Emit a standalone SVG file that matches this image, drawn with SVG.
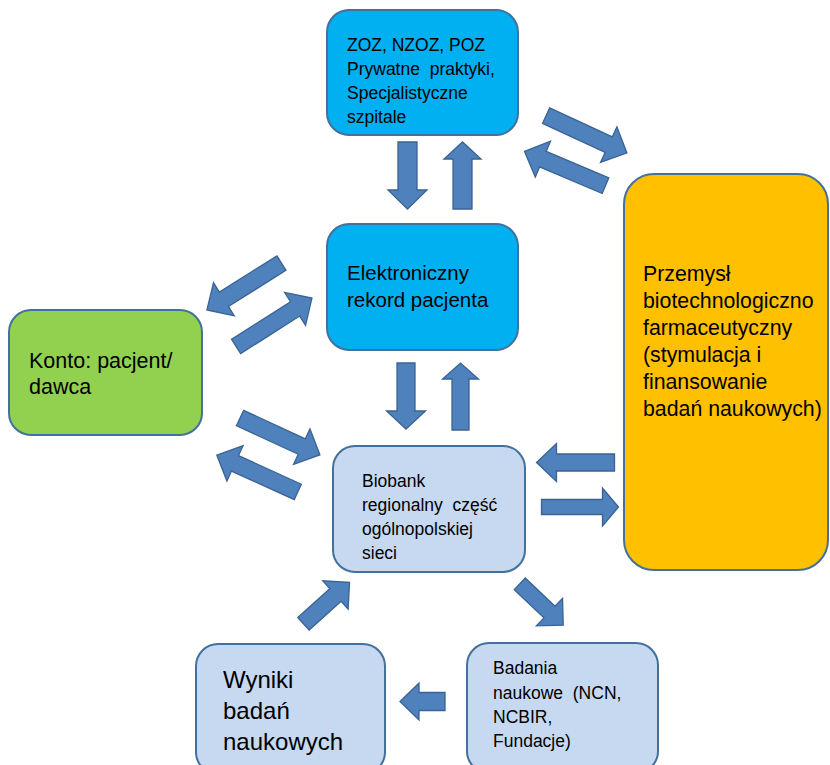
<svg xmlns="http://www.w3.org/2000/svg" width="830" height="765" viewBox="0 0 830 765">
<style>
.box{stroke:#41719C;stroke-width:2}
.cyan{fill:#00B0F0}
.green{fill:#92D050}
.orange{fill:#FFC000}
.light{fill:#C6D9F1}
.arr{fill:#4F81BD;stroke:#3A6394;stroke-width:1.3;stroke-linejoin:miter}
text{font-family:"Liberation Sans",Arial,sans-serif;fill:#000;white-space:pre}
</style>
<rect width="830" height="765" fill="#FFFFFF"/>
<g id="connectors">
<path class="arr" transform="translate(407.5,175.5) rotate(90)" d="M-33.5,-9.5 H14.5 V-19.5 L33.5,0 L14.5,19.5 V9.5 H-33.5 Z"/>
<path class="arr" transform="translate(462.5,175.5) rotate(-90)" d="M-33.5,-9.5 H16.5 V-18.5 L33.5,0 L16.5,18.5 V9.5 H-33.5 Z"/>
<path class="arr" transform="translate(406,396) rotate(90)" d="M-33,-9 H15 V-19.5 L33,0 L15,19.5 V9 H-33 Z"/>
<path class="arr" transform="translate(460.5,396.5) rotate(-90)" d="M-33.5,-8.5 H17.5 V-18 L33.5,0 L17.5,18 V8.5 H-33.5 Z"/>
<path class="arr" transform="translate(586.5,134.3) rotate(24.8)" d="M-44.5,-8.5 H24.5 V-19.5 L44.5,0 L24.5,19.5 V8.5 H-44.5 Z"/>
<path class="arr" transform="translate(565,168.5) rotate(203)" d="M-44,-8.5 H24 V-19.5 L44,0 L24,19.5 V8.5 H-44 Z"/>
<path class="arr" transform="translate(244.2,286.5) rotate(147.9)" d="M-44,-8.5 H24 V-19.5 L44,0 L24,19.5 V8.5 H-44 Z"/>
<path class="arr" transform="translate(274,322.3) rotate(-32.5)" d="M-45,-8.5 H25 V-19.5 L45,0 L25,19.5 V8.5 H-45 Z"/>
<path class="arr" transform="translate(280,436.5) rotate(24.8)" d="M-44,-8.5 H24 V-19.5 L44,0 L24,19.5 V8.5 H-44 Z"/>
<path class="arr" transform="translate(257.3,473.5) rotate(204.5)" d="M-44.5,-8.5 H24.5 V-19.5 L44.5,0 L24.5,19.5 V8.5 H-44.5 Z"/>
<path class="arr" transform="translate(575.5,462.5) rotate(180)" d="M-39,-8.5 H19 V-19 L39,0 L19,19 V8.5 H-39 Z"/>
<path class="arr" transform="translate(580,507)" d="M-38.5,-7.5 H22.5 V-19 L38.5,0 L22.5,19 V7.5 H-38.5 Z"/>
<path class="arr" transform="translate(326.5,603) rotate(-42)" d="M-31,-8.5 H12 V-19 L31,0 L12,19 V8.5 H-31 Z"/>
<path class="arr" transform="translate(541.5,604.5) rotate(43.6)" d="M-30,-8 H11 V-19 L30,0 L11,19 V8 H-30 Z"/>
<path class="arr" transform="translate(422.5,701.5) rotate(180)" d="M-22.5,-9 H3.5 V-18.5 L22.5,0 L3.5,18.5 V9 H-22.5 Z"/>
</g>
<g id="zoz">
<rect class="box cyan" x="327" y="10" width="191" height="125" rx="22"/>
<text font-size="17.5"><tspan x="347" y="50.5">ZOZ, NZOZ, POZ</tspan><tspan x="347" y="74.5">Prywatne  praktyki,</tspan><tspan x="347" y="98.5">Specjalistyczne</tspan><tspan x="347" y="122.5">szpitale</tspan></text>
</g>
<g id="ehr">
<rect class="box cyan" x="327" y="224" width="191" height="126" rx="22"/>
<text font-size="20.5"><tspan x="347" y="280">Elektroniczny</tspan><tspan x="347" y="307">rekord pacjenta</tspan></text>
</g>
<g id="konto">
<rect class="box green" x="9" y="310" width="193" height="125" rx="22"/>
<text font-size="21.5"><tspan x="29" y="368">Konto: pacjent/</tspan><tspan x="29" y="394">dawca</tspan></text>
</g>
<g id="przemysl">
<rect class="box orange" x="624" y="174" width="204" height="396" rx="30"/>
<text font-size="21.3"><tspan x="643" y="281">Przemysł</tspan><tspan x="643" y="308">biotechnologiczno</tspan><tspan x="643" y="335">farmaceutyczny</tspan><tspan x="643" y="362">(stymulacja i</tspan><tspan x="643" y="389">finansowanie</tspan><tspan x="643" y="416">badań naukowych)</tspan></text>
</g>
<g id="biobank">
<rect class="box light" x="333" y="446" width="192" height="126" rx="22"/>
<text font-size="17.5"><tspan x="362" y="487">Biobank</tspan><tspan x="362" y="511">regionalny  część</tspan><tspan x="362" y="535">ogólnopolskiej</tspan><tspan x="362" y="559">sieci</tspan></text>
</g>
<g id="wyniki">
<rect class="box light" x="196" y="644" width="189" height="130" rx="22"/>
<text font-size="24"><tspan x="223" y="688">Wyniki</tspan><tspan x="223" y="719">badań</tspan><tspan x="223" y="750">naukowych</tspan></text>
</g>
<g id="badania">
<rect class="box light" x="467" y="643" width="191" height="130" rx="22"/>
<text font-size="17.5"><tspan x="493" y="674">Badania</tspan><tspan x="493" y="699">naukowe  (NCN,</tspan><tspan x="493" y="723">NCBIR,</tspan><tspan x="493" y="747">Fundacje)</tspan></text>
</g>
</svg>
